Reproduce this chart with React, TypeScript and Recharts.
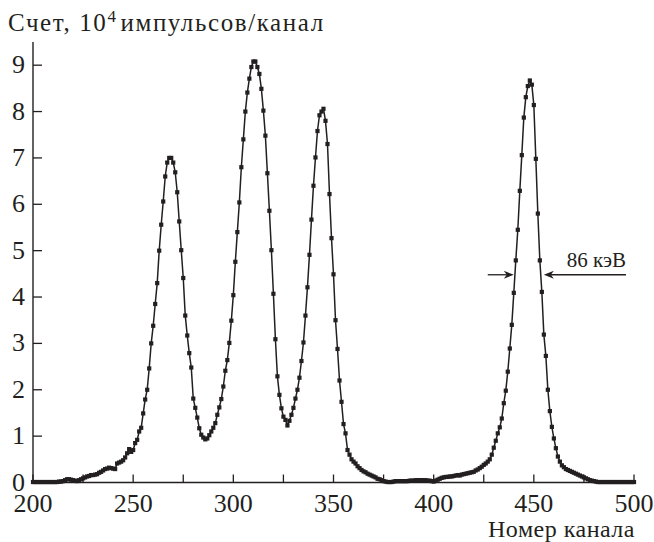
import React from "react";
import { LineChart, Line, XAxis, YAxis, ReferenceLine } from "recharts";

// counts, 10^4 pulses per channel, channel 200 onwards (one value per channel)
const firstChannel = 200;
const counts200 = [
  0.01, 0.01, 0.01, 0.01, 0.01, 0.01, 0.01, 0.01, 0.01, 0.01,
  0.01, 0.01, 0.01, 0.02, 0.02, 0.03, 0.05, 0.07, 0.07, 0.06,
  0.05, 0.04, 0.03, 0.05, 0.07, 0.09, 0.11, 0.13, 0.14, 0.16,
  0.16, 0.17, 0.18, 0.21, 0.23, 0.26, 0.29, 0.3, 0.32, 0.31,
  0.3, 0.29, 0.41, 0.43, 0.45, 0.48, 0.54, 0.63, 0.72, 0.66,
];
const counts250 = [
  0.7, 0.85, 0.92, 1.1, 1.18, 1.49, 1.79, 2.0, 2.46, 3.0,
  3.38, 3.85, 4.3, 5.0, 5.56, 6.06, 6.6, 6.9, 7.0, 7.0,
  6.9, 6.69, 6.26, 5.63, 5.01, 4.41, 3.6, 3.17, 2.79, 2.48,
  1.81, 1.61, 1.4, 1.17, 1.03, 0.97, 0.93, 0.95, 1.02, 1.1,
  1.18, 1.28, 1.46, 1.62, 1.8, 2.07, 2.41, 2.64, 3.01, 3.49,
];
const counts300 = [
  4.04, 4.76, 5.4, 6.04, 6.8, 7.4, 8.0, 8.41, 8.71, 8.96,
  9.08, 9.08, 8.96, 8.81, 8.49, 8.02, 7.48, 6.67, 5.86, 5.01,
  4.07, 3.09, 2.29, 1.89, 1.6, 1.42, 1.35, 1.23, 1.33, 1.46,
  1.61, 1.81, 2.0, 2.26, 2.62, 3.02, 3.6, 4.21, 4.91, 5.67,
  6.4, 7.01, 7.58, 7.92, 8.0, 8.06, 7.8, 7.3, 6.22, 5.27,
];
const counts350 = [
  4.49, 3.5, 2.88, 2.2, 1.74, 1.26, 1.06, 0.7, 0.6, 0.5,
  0.45, 0.41, 0.35, 0.31, 0.27, 0.24, 0.22, 0.19, 0.17, 0.15,
  0.13, 0.11, 0.08, 0.07, 0.05, 0.03, 0.02, 0.01, 0.01, 0.01,
  0.02, 0.03, 0.03, 0.03, 0.03, 0.03, 0.03, 0.03, 0.04, 0.04,
  0.04, 0.05, 0.05, 0.05, 0.05, 0.05, 0.05, 0.04, 0.04, 0.03,
];
const counts400 = [
  0.02, 0.04, 0.06, 0.08, 0.1, 0.11, 0.12, 0.12, 0.13, 0.13,
  0.14, 0.15, 0.16, 0.15, 0.17, 0.18, 0.19, 0.2, 0.21, 0.22,
  0.23, 0.26, 0.28, 0.31, 0.34, 0.38, 0.41, 0.45, 0.5, 0.6,
  0.75, 0.9, 1.06, 1.19, 1.38, 1.71, 1.98, 2.39, 2.89, 3.4,
  4.09, 4.79, 5.45, 6.29, 7.06, 7.87, 8.31, 8.55, 8.67, 8.58,
];
const counts450 = [
  8.14, 6.98, 5.8, 4.79, 4.11, 3.19, 2.73, 2.0, 1.54, 1.2,
  0.95, 0.74, 0.56, 0.45, 0.37, 0.33, 0.29, 0.27, 0.25, 0.23,
  0.21, 0.19, 0.17, 0.15, 0.13, 0.11, 0.09, 0.07, 0.05, 0.04,
  0.03, 0.02, 0.01, 0.01, 0.01, 0.01, 0.01, 0.01, 0.01, 0.01,
  0.01, 0.01, 0.01, 0.01, 0.01, 0.01, 0.01, 0.01, 0.01, 0.01,
  0.01,
];

const xTicks = [200, 225, 250, 275, 300, 325, 350, 375, 400, 425, 450, 475, 500];
const yTicks = [0, 1, 2, 3, 4, 5, 6, 7, 8, 9];

// FWHM marker for the last peak
const fwhmLevel = 4.48;
const fwhmLeft = [427, 440];
const fwhmRight = [496, 455];
const fwhmText = "86 кэВ";

const data = [...counts200, ...counts250, ...counts300, ...counts350, ...counts400, ...counts450].map(
  (count, i) => ({ channel: firstChannel + i, count })
);

const serif = { fontFamily: "Liberation Serif, Times New Roman, serif" };
const ink = "#231f20";

function XTick({ x, y, payload }: any) {
  const v = payload.value;
  return (
    <g>
      <line x1={x} x2={x} y1={y} y2={y - 8} stroke={ink} strokeWidth={1.3} />
      {v % 50 === 0 && (
        <text x={x} y={y + 29.5} textAnchor="middle" fontSize={26} style={serif} fill={ink}>
          {v}
        </text>
      )}
    </g>
  );
}

function YTick({ x, y, payload }: any) {
  return (
    <g>
      <line x1={x} x2={x + 9} y1={y} y2={y} stroke={ink} strokeWidth={1.3} />
      <text x={x - 8} y={y + 8} textAnchor="end" fontSize={26} style={serif} fill={ink}>
        {payload.value}
      </text>
    </g>
  );
}

function SquareDot({ cx, cy }: any) {
  if (cx == null || cy == null) return null;
  return <rect x={cx - 2.1} y={cy - 2.1} width={4.2} height={4.2} fill={ink} />;
}

function Arrow({ x1, y1, x2, y2, text }: any) {
  const dir = x2 > x1 ? 1 : -1;
  return (
    <g>
      <line x1={x1} y1={y1} x2={x2 - dir * 6} y2={y2} stroke={ink} strokeWidth={1.3} />
      <polygon points={`${x2},${y2} ${x2 - dir * 10},${y2 - 4} ${x2 - dir * 7},${y2} ${x2 - dir * 10},${y2 + 4}`} fill={ink} />
      {text && (
        <text x={x1} y={y1 - 8} textAnchor="end" fontSize={21} style={serif} fill={ink}>
          {text}
        </text>
      )}
    </g>
  );
}

export default function App() {
  return (
    <div style={{ position: "fixed", left: 0, top: 0, width: 654, height: 542, background: "#fff" }}>
      <LineChart width={654} height={542} data={data} margin={{ top: 42, right: 20, left: 32, bottom: 58.5 }}>
        <XAxis
          dataKey="channel"
          type="number"
          domain={[200, 500]}
          ticks={xTicks}
          interval={0}
          height={1}
          tickSize={0}
          tickMargin={0}
          tickLine={false}
          tick={<XTick />}
          axisLine={{ stroke: ink, strokeWidth: 1.4 }}
          label={(p: any) => (
            <text x={p.viewBox.x + p.viewBox.width + 1} y={p.viewBox.y + 54.5} textAnchor="end" fontSize={24} letterSpacing={0.5} style={serif} fill={ink}>
              Номер канала
            </text>
          )}
        />
        <YAxis
          type="number"
          domain={[0, 9.5]}
          ticks={yTicks}
          interval={0}
          width={1}
          tickSize={0}
          tickMargin={0}
          tickLine={false}
          tick={<YTick />}
          axisLine={{ stroke: ink, strokeWidth: 1.4 }}
          label={(p: any) => (
            <text x={p.viewBox.x - 24} y={p.viewBox.y - 11} fontSize={25} letterSpacing={1.6} style={serif} fill={ink}>
              <tspan>Счет, 10</tspan>
              <tspan dy={-9} fontSize={17}>4</tspan>
              <tspan dy={9} dx={3}>импульсов/канал</tspan>
            </text>
          )}
        />
        <ReferenceLine
          segment={[{ x: fwhmLeft[0], y: fwhmLevel }, { x: fwhmLeft[1], y: fwhmLevel }]}
          shape={(p: any) => <Arrow {...p} />}
        />
        <ReferenceLine
          segment={[{ x: fwhmRight[0], y: fwhmLevel }, { x: fwhmRight[1], y: fwhmLevel }]}
          shape={(p: any) => <Arrow {...p} text={fwhmText} />}
        />
        <Line
          type="linear"
          dataKey="count"
          stroke={ink}
          strokeWidth={1.5}
          dot={<SquareDot />}
          activeDot={false}
          isAnimationActive={false}
        />
      </LineChart>
    </div>
  );
}
